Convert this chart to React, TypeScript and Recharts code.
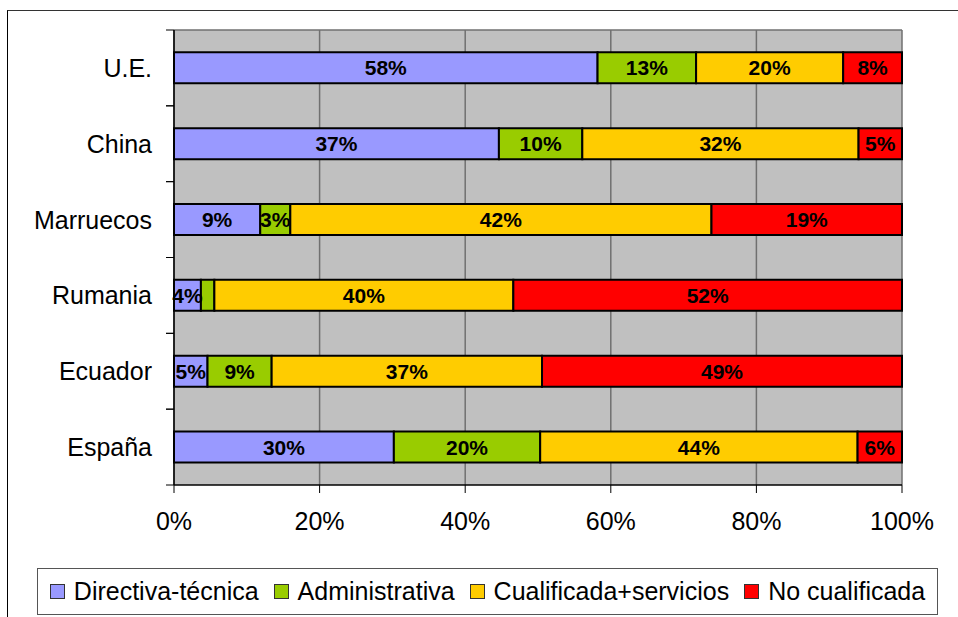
import { BarChart, Bar, XAxis, YAxis, CartesianGrid, LabelList } from "recharts";

// Países (de arriba a abajo)
const paises = ["U.E.", "China", "Marruecos", "Rumania", "Ecuador", "España"];

// Valores brutos por ocupación (%), el gráfico los normaliza al 100%
const directiva = [57.6, 37.4, 8.6, 3.6, 4.6, 30.2];
const administrativa = [13.4, 9.6, 3.0, 1.8, 8.8, 20.1];
const cualificada = [20.0, 31.8, 42.0, 40.0, 37.1, 43.6];
const noCualificada = [8.0, 5.0, 19.0, 52.0, 49.4, 6.1];

const xTicks = [0, 0.2, 0.4, 0.6, 0.8, 1];

const series = [
    { key: "dir", name: "Directiva-técnica", color: "#9999FF" },
    { key: "adm", name: "Administrativa", color: "#99CC00" },
    { key: "cua", name: "Cualificada+servicios", color: "#FFCC00" },
    { key: "noc", name: "No cualificada", color: "#FF0000" },
];

const data = paises.map((pais, i) => ({
    pais,
    dir: directiva[i],
    adm: administrativa[i],
    cua: cualificada[i],
    noc: noCualificada[i],
}));

const FONT = "'Liberation Sans', Arial, sans-serif";
const W = 958;
const H = 617;
const M = { top: 30, right: 56, left: 0, bottom: 82 };
const YAXIS_W = 174;
const XAXIS_H = 50;
const BAND = (H - M.top - M.bottom - XAXIS_H) / paises.length;

function CategoryTick(props: any) {
    const { x, y, payload } = props;
    const half = BAND / 2;
    return (
        <g>
            <line x1={YAXIS_W - 8} x2={YAXIS_W} y1={y - half} y2={y - half} stroke="#000" />
            <line x1={YAXIS_W - 8} x2={YAXIS_W} y1={y + half} y2={y + half} stroke="#000" />
            <text x={x} y={y} dy="0.36em" textAnchor="end" fontSize={25} fontFamily={FONT} fill="#000">
                {payload.value}
            </text>
        </g>
    );
}

function BarLabel(props: any) {
    const { x, y, width, height, value } = props;
    if (value == null || value < 2) return null;
    return (
        <text
            x={x + width / 2}
            y={y + height / 2}
            dy="0.36em"
            textAnchor="middle"
            fontSize={21}
            fontWeight="bold"
            fontFamily={FONT}
            fill="#000"
        >
            {Math.round(value)}%
        </text>
    );
}

export default function App() {
    return (
        <div style={{ position: "fixed", left: 0, top: 0, width: W, height: H, overflow: "hidden", background: "#fff" }}>
            {/* marco exterior */}
            <div
                style={{
                    position: "absolute",
                    left: 7,
                    top: 10,
                    width: 1000,
                    height: 700,
                    borderLeft: "1px solid #000",
                    borderTop: "1.5px solid #333",
                }}
            />
            <div style={{ position: "absolute", left: 0, top: 0 }}>
                <BarChart
                    width={W}
                    height={H}
                    data={data}
                    layout="vertical"
                    stackOffset="expand"
                    barCategoryGap="29.5%"
                    margin={M}
                >
                    <CartesianGrid
                        fill="#C0C0C0"
                        stroke="#707070"
                        strokeWidth={1.5}
                        horizontalCoordinatesGenerator={({ offset }: any) => [offset.top]}
                    />
                    <XAxis
                        type="number"
                        domain={[0, 1]}
                        ticks={xTicks}
                        tickFormatter={(v: number) => `${Math.round(v * 100)}%`}
                        height={XAXIS_H}
                        tickSize={8}
                        tickMargin={19}
                        axisLine={{ stroke: "#000", strokeWidth: 1.5 }}
                        tickLine={{ stroke: "#000" }}
                        tick={{ fontSize: 25, fill: "#000", fontFamily: FONT }}
                    />
                    <YAxis
                        type="category"
                        dataKey="pais"
                        width={YAXIS_W}
                        tickSize={8}
                        tickMargin={14}
                        tickLine={false}
                        axisLine={{ stroke: "#000", strokeWidth: 1.5 }}
                        tick={<CategoryTick />}
                        interval={0}
                    />
                    {series.map((s) => (
                        <Bar
                            key={s.key}
                            dataKey={s.key}
                            name={s.name}
                            stackId="a"
                            fill={s.color}
                            stroke="#000"
                            strokeWidth={2}
                            isAnimationActive={false}
                        >
                            <LabelList dataKey={s.key} content={<BarLabel />} />
                        </Bar>
                    ))}
                </BarChart>
            </div>
            {/* leyenda */}
            <div
                style={{
                    position: "absolute",
                    left: 37,
                    top: 568,
                    width: 901,
                    height: 47,
                    border: "1px solid #555",
                    boxSizing: "border-box",
                    background: "#fff",
                    display: "flex",
                    alignItems: "center",
                    justifyContent: "center",
                    gap: 15,
                    fontFamily: FONT,
                    fontSize: 25,
                    color: "#000",
                    whiteSpace: "nowrap",
                }}
            >
                {series.map((s) => (
                    <div key={s.key} style={{ display: "flex", alignItems: "center" }}>
                        <span
                            style={{
                                display: "inline-block",
                                width: 13,
                                height: 13,
                                background: s.color,
                                border: "1px solid #333",
                                marginRight: 9,
                            }}
                        />
                        <span>{s.name}</span>
                    </div>
                ))}
            </div>
        </div>
    );
}
